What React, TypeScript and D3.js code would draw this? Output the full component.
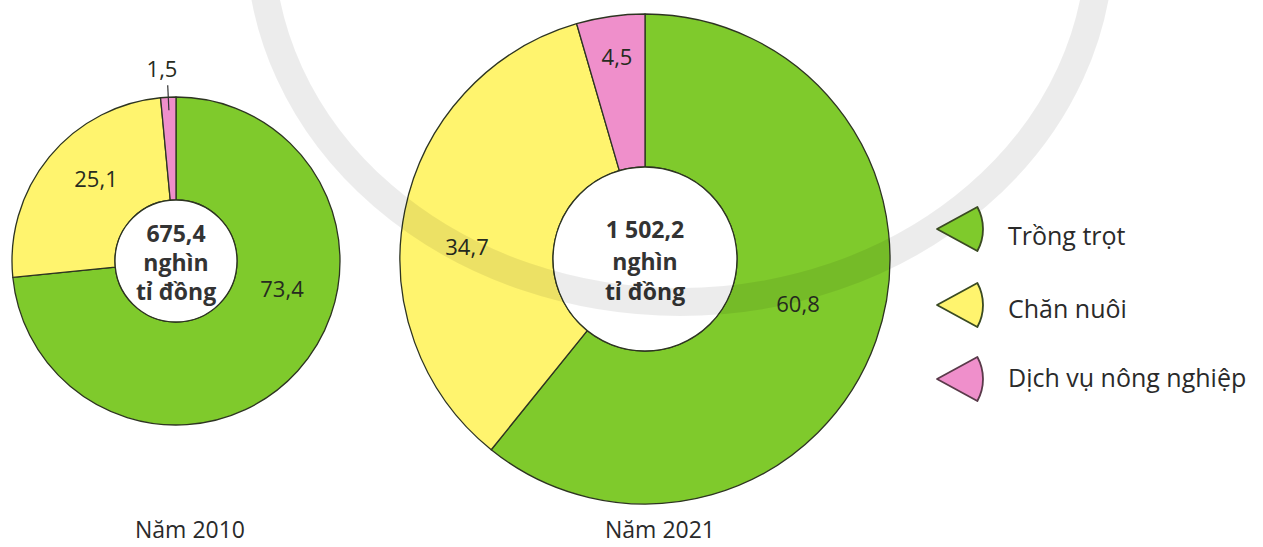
import React from "react";
import * as d3 from "d3";

const categories = ["Trồng trọt", "Chăn nuôi", "Dịch vụ nông nghiệp"];
const colors = ["#7fca2c", "#fff46e", "#ef8fcb"];
const years = ["Năm 2010", "Năm 2021"];
const values2010 = [73.4, 25.1, 1.5];
const values2021 = [60.8, 34.7, 4.5];
const totals = ["675,4", "1 502,2"];
const unitLines = ["nghìn", "tỉ đồng"];

const W = 1263;
const H = 547;
const FONT = "'Open Sans', 'Noto Sans', sans-serif";
const STROKE = "#2d3421";

const fmt = (v: number) => v.toFixed(1).replace(".", ",");

type DonutSpec = {
  values: number[];
  cx: number;
  cy: number;
  outer: number;
  inner: number;
  labelOffsets: [number, number][];
  centerDy: number[];
  titleX: number;
  leader?: number;
};

const donuts: DonutSpec[] = [
  {
    values: values2010,
    cx: 176,
    cy: 261,
    outer: 164,
    inner: 61,
    labelOffsets: [
      [106, 36],
      [-80, -74],
      [-14, -184],
    ],
    centerDy: [-19, 10, 39],
    titleX: 190,
    leader: 2,
  },
  {
    values: values2021,
    cx: 645,
    cy: 259,
    outer: 245,
    inner: 92,
    labelOffsets: [
      [153, 53],
      [-178, -4],
      [-28, -194],
    ],
    centerDy: [-21, 11, 41],
    titleX: 660,
  },
];

function Donut({ spec, idx }: { spec: DonutSpec; idx: number }) {
  const pie = d3
    .pie<number>()
    .sort(null)
    .value((d) => d);
  const arcs = pie(spec.values);
  const arcGen = d3
    .arc<d3.PieArcDatum<number>>()
    .innerRadius(spec.inner)
    .outerRadius(spec.outer);

  let leader: React.ReactNode = null;
  if (spec.leader !== undefined) {
    const a = arcs[spec.leader];
    const mid = (a.startAngle + a.endAngle) / 2;
    const r1 = spec.outer - 13;
    const r2 = spec.outer + 12;
    leader = (
      <line
        x1={r1 * Math.sin(mid)}
        y1={-r1 * Math.cos(mid)}
        x2={r2 * Math.sin(mid)}
        y2={-r2 * Math.cos(mid)}
        stroke="#333"
        strokeWidth={1.2}
      />
    );
  }

  return (
    <g transform={`translate(${spec.cx},${spec.cy})`}>
      {arcs.map((a, i) => (
        <path
          key={i}
          d={arcGen(a) || ""}
          fill={colors[i]}
          stroke={STROKE}
          strokeWidth={1.3}
          strokeLinejoin="round"
        />
      ))}
      <circle r={spec.inner} fill="#fff" stroke={STROKE} strokeWidth={1.3} />
      {leader}
      {spec.values.map((v, i) => (
        <text
          key={i}
          x={spec.labelOffsets[i][0]}
          y={spec.labelOffsets[i][1]}
          textAnchor="middle"
          fontFamily={FONT}
          fontSize={22}
          fill="#262b20"
        >
          {fmt(v)}
        </text>
      ))}
      {[totals[idx], ...unitLines].map((t, i) => (
        <text
          key={"c" + i}
          x={0}
          y={spec.centerDy[i]}
          textAnchor="middle"
          fontFamily={FONT}
          fontWeight={700}
          fontSize={23}
          fill="#333"
        >
          {t}
        </text>
      ))}
    </g>
  );
}

function Legend() {
  const wedge = d3
    .arc()
    .innerRadius(0)
    .outerRadius(46)
    .startAngle(Math.PI / 2 - 0.5)
    .endAngle(Math.PI / 2 + 0.5);
  const rows = [229, 305, 379];
  return (
    <g>
      {categories.map((c, i) => (
        <g key={c} transform={`translate(937,${rows[i]})`}>
          <path
            d={(wedge as any)() || ""}
            fill={colors[i]}
            stroke={i === 2 ? "#5a3a4a" : "#3a4a22"}
            strokeWidth={1.8}
            strokeLinejoin="round"
          />
          <text
            x={71}
            y={[16, 13, 8][i]}
            fontFamily={FONT}
            fontSize={25}
            fill="#2a2a2a"
          >
            {c}
          </text>
        </g>
      ))}
    </g>
  );
}

export default function App() {
  return (
    <svg
      width={W}
      height={H}
      viewBox={`0 0 ${W} ${H}`}
      style={{ position: "absolute", left: 0, top: 0, background: "#fff" }}
    >
      <rect width={W} height={H} fill="#fff" />
      {donuts.map((d, i) => (
        <Donut key={i} spec={d} idx={i} />
      ))}
      {/* faint watermark band */}
      <ellipse
        cx={680}
        cy={-60}
        rx={420}
        ry={362}
        fill="none"
        stroke="#000"
        strokeOpacity={0.075}
        strokeWidth={28}
      />
      <Legend />
      {donuts.map((d, i) => (
        <text
          key={"t" + i}
          x={d.titleX}
          y={538}
          textAnchor="middle"
          fontFamily={FONT}
          fontSize={23}
          fill="#2a2a2a"
        >
          {years[i]}
        </text>
      ))}
    </svg>
  );
}
